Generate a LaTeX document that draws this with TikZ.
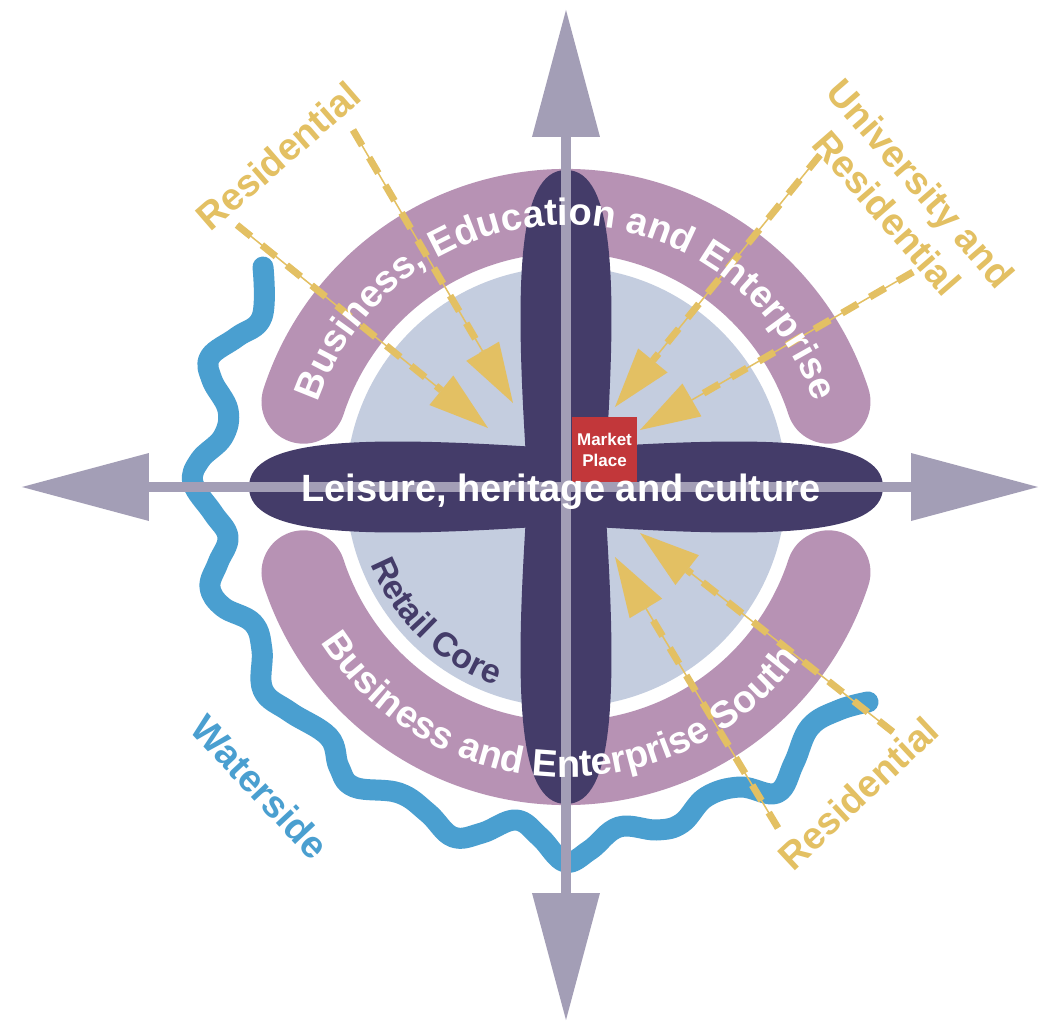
\documentclass[tikz,border=0pt]{standalone}
\usepackage{fontspec}
\setmainfont{Liberation Sans}
\usepackage{tikz}
\usetikzlibrary{arrows.meta,decorations.text}

\definecolor{axisgray}{HTML}{A39EB6}
\definecolor{corepurple}{HTML}{443C69}
\definecolor{bandpurple}{HTML}{B792B4}
\definecolor{retailblue}{HTML}{C4CDDF}
\definecolor{resyellow}{HTML}{E3C063}
\definecolor{riverblue}{HTML}{4A9FD0}
\definecolor{marketred}{HTML}{C2373A}

\newcommand{\bandfont}{\color{white}\bfseries\fontsize{38}{40}\selectfont}
\newcommand{\retailfont}{\color{corepurple}\bfseries\fontsize{34}{36}\selectfont}

\begin{document}
\begin{tikzpicture}[x=1pt,y=1pt,
  band/.style={bandpurple,line width=84pt,line cap=round},
  lobe/.style={fill=corepurple},
  compass/.style={axisgray,line width=10pt,
    {Triangle[length=127pt,width=68pt,line width=0pt]}-{Triangle[length=127pt,width=68pt,line width=0pt]}},
  feeder/.style={resyellow,line width=1.5pt,-{Triangle[length=60pt,width=38pt,line width=0pt]},
    postaction={draw,-,line width=7pt,dash pattern=on 18pt off 14pt,shorten >=60pt}},
  zonetext/.style={font=\bfseries\fontsize{38}{45}\selectfont,align=center,inner sep=0pt},
  along/.style={decorate,decoration={text along path,text align=center,text={#1}}}]
\useasboundingbox (-566,-536) rectangle (476,487);
\fill[white] (-566,-536) rectangle (476,487);

% retail core and the two business bands
\fill[retailblue] (0,0) circle[radius=220pt];
\draw[band] (18:276) arc[start angle=18,end angle=162,radius=276pt];
\draw[band] (198:276) arc[start angle=198,end angle=342,radius=276pt];

% river
\draw[riverblue,line width=21pt,line cap=round,line join=round] plot[smooth,tension=0.65] coordinates {
  (-303,220) (-304,170) (-329,150) (-356,130) (-354,107) (-338,77) (-343,50)
  (-366,27) (-373,4) (-353,-26) (-338,-50) (-348,-76) (-356,-100) (-343,-120)
  (-313,-136) (-304,-163) (-303,-203) (-276,-225) (-237,-250) (-227,-280)
  (-212,-300) (-167,-306) (-138,-326) (-113,-350) (-84,-346) (-50,-333)
  (-26,-350) (-1,-375) (24,-363) (53,-340) (91,-343) (116,-336) (140,-310)
  (174,-300) (211,-306) (228,-276) (244,-240) (273,-223) (302,-215)};

% leisure cross
\foreach \a in {0,90,180,270}
  \fill[lobe,rotate=\a] (-38,0) .. controls (-52,200) and (-50,317) .. (0,317)
    .. controls (50,317) and (52,200) .. (38,0) -- cycle;

% compass
\coordinate (north) at (0,477);
\coordinate (south) at (0,-533);
\coordinate (west) at (-544,0);
\coordinate (east) at (472,0);
\draw[compass] (south) -- (north);
\draw[compass] (west) -- (east);

% residential feeders
\coordinate (nwa) at (-329,262); \coordinate (nwa tip) at (-78,59);
\coordinate (nwb) at (-213,357); \coordinate (nwb tip) at (-53,84);
\coordinate (nea) at (254,332);  \coordinate (nea tip) at (49,80);
\coordinate (neb) at (347,215);  \coordinate (neb tip) at (74,57);
\coordinate (sea) at (212,-341); \coordinate (sea tip) at (49,-70);
\coordinate (seb) at (327,-245); \coordinate (seb tip) at (74,-46);
\foreach \f in {nwa,nwb,nea,neb,sea,seb}
  \draw[feeder] (\f) -- (\f\space tip);

\node[fill=marketred,text=white,minimum size=65pt,inner sep=0pt,align=center,
  font=\bfseries\fontsize{17}{21}\selectfont] (market) at (38.5,37.5) {Market\\Place};

% zone names
\node[text=white,font=\bfseries\fontsize{38}{40}\selectfont,anchor=base] (leisure) at (-5,-14) {Leisure, heritage and culture};
\path[along={|\bandfont|Business, Education and Enterprise}] (175:262) arc[start angle=175,end angle=5,radius=262pt];
\path[along={|\bandfont|Business and Enterprise South}] (193:290) arc[start angle=193,end angle=343,radius=290pt];
\path[along={|\retailfont|Retail Core}] (180:210) arc[start angle=180,end angle=272,radius=210pt];

\node[zonetext,text=resyellow,rotate=41] (res nw) at (-288,331) {Residential};
\node[zonetext,text=resyellow,rotate=-49] (university) at (338,289) {University and\\Residential};
\node[zonetext,text=resyellow,rotate=43] (res se) at (292,-306) {Residential};
\node[zonetext,text=riverblue,rotate=-47] (waterside) at (-306,-300) {Waterside};
\end{tikzpicture}
\end{document}
